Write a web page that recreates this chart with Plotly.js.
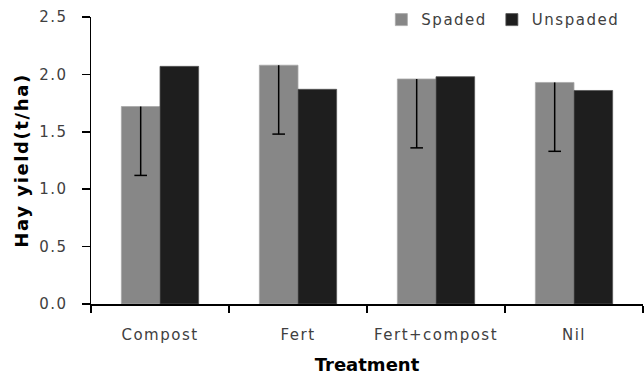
<!DOCTYPE html>
<html>
<head>
<meta charset="utf-8">
<script src="https://cdn.plot.ly/plotly-3.0.1.min.js"></script>
<style>
html,body{margin:0;padding:0;background:#fff;}
#chart{width:644px;height:376px;}
.xtick text,.ytick text,.legendtext{letter-spacing:1.5px;}
.ytitle{letter-spacing:1.6px;}
</style>
</head>
<body>
<div id="chart"></div>
<script>
const categories = ["Compost", "Fert", "Fert+compost", "Nil"];
const spaded = [1.72, 2.08, 1.96, 1.93];
const unspaded = [2.07, 1.87, 1.98, 1.86];
const spadedErrMinus = [0.60, 0.60, 0.60, 0.60];
const spadedErrPlus = [0, 0, 0, 0];
const yTicks = [0, 0.5, 1.0, 1.5, 2.0, 2.5];
const yTickText = ["0.0", "0.5", "1.0", "1.5", "2.0", "2.5"];

const spadedLow = spaded.map((v, i) => v - spadedErrMinus[i]);

const tickFont = {family: "DejaVu Sans", size: 15, color: "#404040"};
const titleFont = {family: "DejaVu Sans", size: 18, color: "#000", weight: "bold"};

const traces = [
  {
    type: "bar", name: "Spaded", x: categories, y: spaded, offsetgroup: "s",
    marker: {color: "#878787", line: {color: "#a8a8a8", width: 0.8}},
    error_y: {type: "data", symmetric: false, array: spadedErrPlus, arrayminus: spadedErrMinus,
              color: "#000", thickness: 1.5, width: 0}
  },
  {
    type: "bar", name: "Unspaded", x: categories, y: unspaded, offsetgroup: "u",
    marker: {color: "#1e1e1e", line: {color: "#555555", width: 0.8}}
  },
  {
    type: "scatter", mode: "markers", x: categories, y: spadedLow, offsetgroup: "s",
    orientation: "v", showlegend: false, hoverinfo: "skip",
    marker: {symbol: "line-ew", size: 9, color: "#000", line: {color: "#000", width: 1.5}}
  },
  {
    type: "scatter", mode: "markers", x: categories, y: unspaded, offsetgroup: "u",
    orientation: "v", showlegend: false, hoverinfo: "skip",
    marker: {symbol: "line-ew", size: 9, opacity: 0, color: "rgba(0,0,0,0)", line: {color: "rgba(0,0,0,0)", width: 0}}
  }
];

const layout = {
  width: 644, height: 376,
  margin: {l: 91, r: 1, t: 17, b: 72, autoexpand: false},
  paper_bgcolor: "#fff", plot_bgcolor: "#fff",
  barmode: "group", bargap: 0.44, bargroupgap: 0,
  scattermode: "group", scattergap: 0.44,
  showlegend: true,
  legend: {orientation: "h", x: 0.526, xanchor: "left", y: 0.99, yanchor: "middle",
           font: tickFont, itemwidth: 30, traceorder: "normal", bgcolor: "rgba(0,0,0,0)"},
  xaxis: {
    type: "category", showline: true, linecolor: "#000", linewidth: 1.5,
    ticks: "outside", tickson: "boundaries", ticklen: 7, tickcolor: "#000", tickwidth: 1.5,
    ticklabelstandoff: 16,
    showgrid: false, zeroline: false, tickfont: tickFont, automargin: false,
    title: {text: "Treatment", font: titleFont, standoff: 16}
  },
  yaxis: {
    range: [0, 2.5], tickvals: yTicks, ticktext: yTickText,
    showline: true, linecolor: "#000", linewidth: 1.5,
    ticks: "outside", ticklen: 8, tickcolor: "#000", tickwidth: 1.5,
    ticklabelstandoff: 11,
    showgrid: false, zeroline: false, tickfont: tickFont, automargin: false,
    title: {text: "Hay yield(t/ha)", font: titleFont, standoff: 6}
  }
};

Plotly.newPlot("chart", traces, layout, {displayModeBar: false, staticPlot: true});
</script>
</body>
</html>
